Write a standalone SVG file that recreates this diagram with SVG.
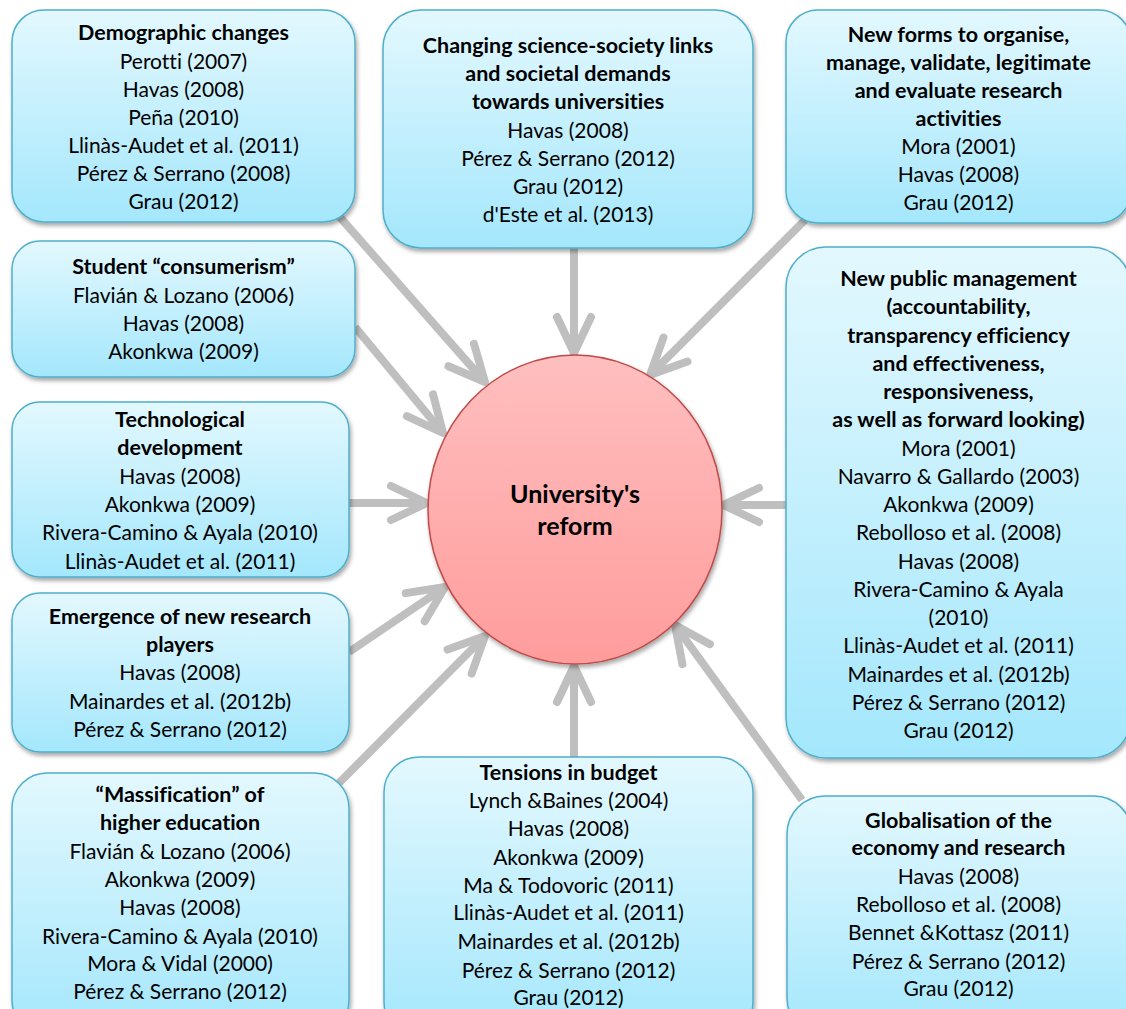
<svg xmlns="http://www.w3.org/2000/svg" width="1126" height="1009" viewBox="0 0 1126 1009">
  <style>
    .box { fill: url(#boxFill); stroke: #4FAFCA; stroke-width: 1.5; filter: url(#shadow); }
    .hub { fill: url(#hubFill); stroke: #BE4B48; stroke-width: 1.5; filter: url(#shadow); }
    .t { font-family: Lato, "Open Sans", "Liberation Sans", sans-serif; font-size: 21px; text-anchor: middle; fill: #000; font-variant-ligatures: none; }
    .b { font-weight: bold; font-size: 21.5px; }
    .hubt { font-family: Lato, "Open Sans", "Liberation Sans", sans-serif; font-size: 25px; font-weight: bold; text-anchor: middle; fill: #000; }
    .link { fill: none; stroke: #BFBFBF; stroke-width: 8; marker-end: url(#chev); }
  </style>
  <defs>
    <linearGradient id="boxFill" x1="0" y1="0" x2="0" y2="1">
      <stop offset="0" stop-color="#E3F8FE"/>
      <stop offset="1" stop-color="#A4E7FC"/>
    </linearGradient>
    <linearGradient id="hubFill" x1="0" y1="0" x2="0" y2="1">
      <stop offset="0" stop-color="#FFBFBF"/>
      <stop offset="1" stop-color="#FF9C9C"/>
    </linearGradient>
    <filter id="shadow" x="-10%" y="-10%" width="125%" height="125%">
      <feDropShadow dx="1.5" dy="3" stdDeviation="2" flood-color="#000" flood-opacity="0.35"/>
    </filter>
    <marker id="chev" markerUnits="userSpaceOnUse" orient="auto" refX="0" refY="0" markerWidth="1" markerHeight="1" overflow="visible">
      <path d="M -36 -17 L 0 0 L -36 17" fill="none" stroke="#BFBFBF" stroke-width="8" stroke-linecap="round" stroke-linejoin="round"/>
    </marker>
  </defs>

  <!-- connectors pointing at the central reform node -->
  <g id="connectors">
    <path class="link" d="M 338 215 L 485 382"/>
    <path class="link" d="M 355 327 L 443 433"/>
    <path class="link" d="M 349 503 L 427 503"/>
    <path class="link" d="M 349 652 L 445 587"/>
    <path class="link" d="M 339 783 L 485 636"/>
    <path class="link" d="M 574 757 L 574 666"/>
    <path class="link" d="M 802 800 L 675 625"/>
    <path class="link" d="M 786 505 L 723 505"/>
    <path class="link" d="M 805 220 L 650 375"/>
    <path class="link" d="M 574 248 L 574 353"/>
  </g>

  <g id="reform">
    <ellipse class="hub" cx="575" cy="509.5" rx="147" ry="154.5"/>
    <text class="hubt" x="575" y="503">University's</text>
    <text class="hubt" x="575" y="535">reform</text>
  </g>

  <g id="demographic">
    <rect class="box" x="12" y="10" width="343" height="212" rx="32"/>
    <text class="t b" x="183.5" y="40">Demographic changes</text>
    <text class="t" x="183.5" y="68.5">Perotti (2007)</text>
    <text class="t" x="183.5" y="96.5">Havas (2008)</text>
    <text class="t" x="183.5" y="124.5">Peña (2010)</text>
    <text class="t" x="183.5" y="152.5">Llinàs-Audet et al. (2011)</text>
    <text class="t" x="183.5" y="180.5">Pérez &amp; Serrano (2008)</text>
    <text class="t" x="183.5" y="208.5">Grau (2012)</text>
  </g>

  <g id="science-society">
    <rect class="box" x="383" y="10" width="370" height="238" rx="38"/>
    <text class="t b" x="568" y="53">Changing science-society links</text>
    <text class="t b" x="568" y="81.2">and societal demands</text>
    <text class="t b" x="568" y="109.4">towards universities</text>
    <text class="t" x="568" y="137.6">Havas (2008)</text>
    <text class="t" x="568" y="165.8">Pérez &amp; Serrano (2012)</text>
    <text class="t" x="568" y="194">Grau (2012)</text>
    <text class="t" x="568" y="222.2">d'Este et al. (2013)</text>
  </g>

  <g id="research-forms">
    <rect class="box" x="786" y="10" width="345" height="213" rx="32"/>
    <text class="t b" x="958.5" y="42">New forms to organise,</text>
    <text class="t b" x="958.5" y="70">manage, validate, legitimate</text>
    <text class="t b" x="958.5" y="98">and evaluate research</text>
    <text class="t b" x="958.5" y="126">activities</text>
    <text class="t" x="958.5" y="154">Mora (2001)</text>
    <text class="t" x="958.5" y="182">Havas (2008)</text>
    <text class="t" x="958.5" y="210">Grau (2012)</text>
  </g>

  <g id="consumerism">
    <rect class="box" x="12" y="241" width="343" height="136" rx="28"/>
    <text class="t b" x="183.5" y="274">Student “consumerism”</text>
    <text class="t" x="183.5" y="303">Flavián &amp; Lozano (2006)</text>
    <text class="t" x="183.5" y="331">Havas (2008)</text>
    <text class="t" x="183.5" y="359">Akonkwa (2009)</text>
  </g>

  <g id="technology">
    <rect class="box" x="12" y="402" width="337" height="175" rx="28"/>
    <text class="t b" x="180" y="427">Technological</text>
    <text class="t b" x="180" y="455">development</text>
    <text class="t" x="180" y="484">Havas (2008)</text>
    <text class="t" x="180" y="512">Akonkwa (2009)</text>
    <text class="t" x="180" y="540">Rivera-Camino &amp; Ayala (2010)</text>
    <text class="t" x="180" y="569">Llinàs-Audet et al. (2011)</text>
  </g>

  <g id="research-players">
    <rect class="box" x="12" y="593" width="337" height="159" rx="28"/>
    <text class="t b" x="180" y="624">Emergence of new research</text>
    <text class="t b" x="180" y="652">players</text>
    <text class="t" x="180" y="680">Havas (2008)</text>
    <text class="t" x="180" y="709">Mainardes et al. (2012b)</text>
    <text class="t" x="180" y="737">Pérez &amp; Serrano (2012)</text>
  </g>

  <g id="massification">
    <rect class="box" x="12" y="773" width="337" height="262" rx="35"/>
    <text class="t b" x="180" y="802">“Massification” of</text>
    <text class="t b" x="180" y="830">higher education</text>
    <text class="t" x="180" y="859">Flavián &amp; Lozano (2006)</text>
    <text class="t" x="180" y="887">Akonkwa (2009)</text>
    <text class="t" x="180" y="915">Havas (2008)</text>
    <text class="t" x="180" y="944">Rivera-Camino &amp; Ayala (2010)</text>
    <text class="t" x="180" y="971">Mora &amp; Vidal (2000)</text>
    <text class="t" x="180" y="999">Pérez &amp; Serrano (2012)</text>
  </g>

  <g id="budget">
    <rect class="box" x="384" y="757" width="369" height="280" rx="35"/>
    <text class="t b" x="568.5" y="780">Tensions in budget</text>
    <text class="t" x="568.5" y="808">Lynch &amp;Baines (2004)</text>
    <text class="t" x="568.5" y="836">Havas (2008)</text>
    <text class="t" x="568.5" y="865">Akonkwa (2009)</text>
    <text class="t" x="568.5" y="893">Ma &amp; Todovoric (2011)</text>
    <text class="t" x="568.5" y="920">Llinàs-Audet et al. (2011)</text>
    <text class="t" x="568.5" y="949">Mainardes et al. (2012b)</text>
    <text class="t" x="568.5" y="978">Pérez &amp; Serrano (2012)</text>
    <text class="t" x="568.5" y="1005">Grau (2012)</text>
  </g>

  <g id="public-management">
    <rect class="box" x="786" y="247" width="345" height="511" rx="40"/>
    <text class="t b" x="958.5" y="286">New public management</text>
    <text class="t b" x="958.5" y="314.25">(accountability,</text>
    <text class="t b" x="958.5" y="342.5">transparency efficiency</text>
    <text class="t b" x="958.5" y="370.75">and effectiveness,</text>
    <text class="t b" x="958.5" y="399">responsiveness,</text>
    <text class="t b" x="958.5" y="427.25">as well as forward looking)</text>
    <text class="t" x="958.5" y="455.5">Mora (2001)</text>
    <text class="t" x="958.5" y="483.75">Navarro &amp; Gallardo (2003)</text>
    <text class="t" x="958.5" y="512">Akonkwa (2009)</text>
    <text class="t" x="958.5" y="540.25">Rebolloso et al. (2008)</text>
    <text class="t" x="958.5" y="568.5">Havas (2008)</text>
    <text class="t" x="958.5" y="596.75">Rivera-Camino &amp; Ayala</text>
    <text class="t" x="958.5" y="625">(2010)</text>
    <text class="t" x="958.5" y="653.25">Llinàs-Audet et al. (2011)</text>
    <text class="t" x="958.5" y="681.5">Mainardes et al. (2012b)</text>
    <text class="t" x="958.5" y="709.75">Pérez &amp; Serrano (2012)</text>
    <text class="t" x="958.5" y="738">Grau (2012)</text>
  </g>

  <g id="globalisation">
    <rect class="box" x="787" y="796" width="345" height="240" rx="38"/>
    <text class="t b" x="958.5" y="828">Globalisation of the</text>
    <text class="t b" x="958.5" y="855">economy and research</text>
    <text class="t" x="958.5" y="884">Havas (2008)</text>
    <text class="t" x="958.5" y="912">Rebolloso et al. (2008)</text>
    <text class="t" x="958.5" y="940">Bennet &amp;Kottasz (2011)</text>
    <text class="t" x="958.5" y="969">Pérez &amp; Serrano (2012)</text>
    <text class="t" x="958.5" y="996">Grau (2012)</text>
  </g>
</svg>
